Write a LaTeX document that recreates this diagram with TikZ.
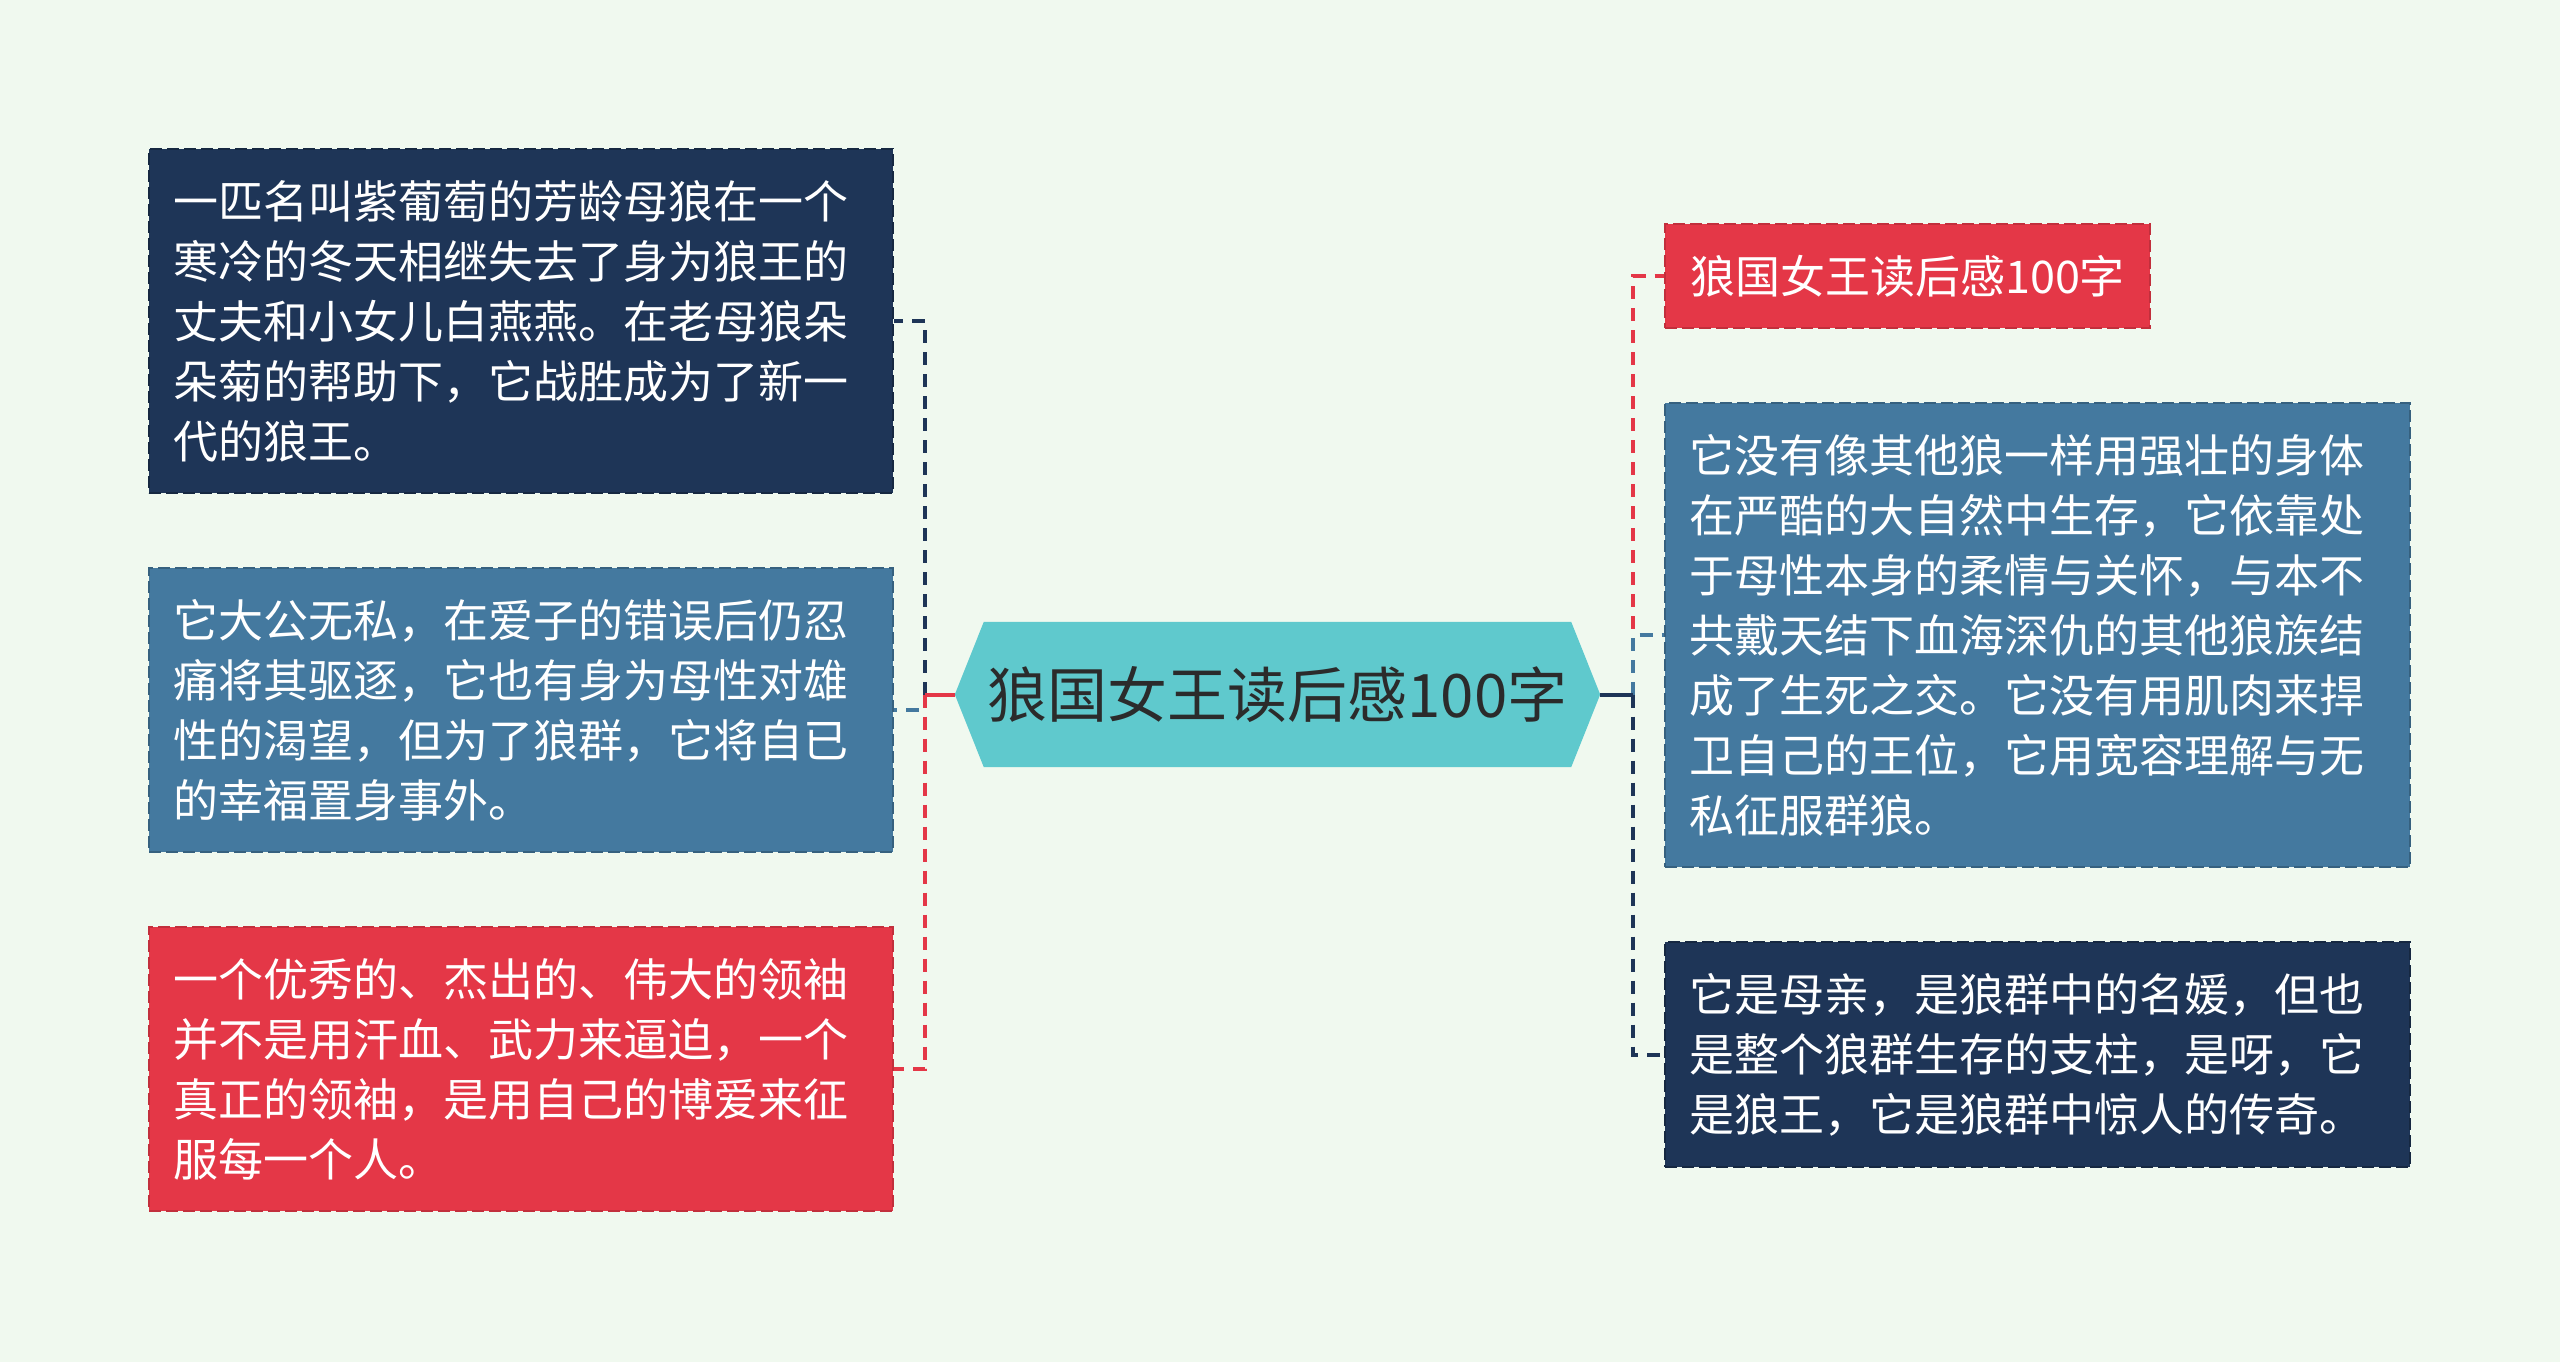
\documentclass[tikz,border=0pt]{standalone}
\usepackage{fontspec}
\setmainfont{Noto Sans CJK SC}
\usetikzlibrary{backgrounds}
\definecolor{bgc}{HTML}{F0F9EF}
\definecolor{navyc}{HTML}{1E3557}
\definecolor{bluec}{HTML}{44799F}
\definecolor{redc}{HTML}{E43747}
\definecolor{tealc}{HTML}{5FC9CD}
\definecolor{darktxt}{HTML}{2B2B2B}
\tikzset{
  box/.style={rectangle, line width=2pt, dash pattern=on 12pt off 5pt,
    text=white, font=\fontsize{45}{60}\selectfont, align=left,
    inner xsep=24pt, inner ysep=0pt, anchor=center},
  navybox/.style={box, fill=navyc, draw=navyc!75!black},
  bluebox/.style={box, fill=bluec, draw=bluec!80!black},
  redbox/.style={box, fill=redc, draw=redc!85!black},
  conn/.style={line width=4pt, dash pattern=on 13pt off 9pt},
  stub/.style={line width=4pt},
}
\begin{document}
\begin{tikzpicture}[x=1pt,y=-1pt]
\useasboundingbox (0,0) rectangle (2560,1362);
\begin{scope}[on background layer]
\fill[bgc] (0,0) rectangle (2560,1362);
\end{scope}

% centre
\node[text=darktxt, font=\fontsize{60}{70}\selectfont, minimum width=645pt, minimum height=145pt, inner sep=0pt] (h) at (1277.5,694.5) {狼国女王读后感100字};
\begin{scope}[on background layer]
\fill[tealc] (h.west) -- ([xshift=29pt]h.north west) -- ([xshift=-29pt]h.north east) -- (h.east) -- ([xshift=-29pt]h.south east) -- ([xshift=29pt]h.south west) -- cycle;
\end{scope}

% left boxes
\node[navybox, text width=696pt, minimum height=344pt] (L1) at (521,321) {一匹名叫紫葡萄的芳龄母狼在一个\\寒冷的冬天相继失去了身为狼王的\\丈夫和小女儿白燕燕。在老母狼朵\\朵菊的帮助下，它战胜成为了新一\\代的狼王。};
\node[bluebox, text width=696pt, minimum height=284pt] (L2) at (521,710) {它大公无私，在爱子的错误后仍忍\\痛将其驱逐，它也有身为母性对雄\\性的渴望，但为了狼群，它将自已\\的幸福置身事外。};
\node[redbox, text width=696pt, minimum height=284pt] (L3) at (521,1069) {一个优秀的、杰出的、伟大的领袖\\并不是用汗血、武力来逼迫，一个\\真正的领袖，是用自己的博爱来征\\服每一个人。};

% right boxes
\node[redbox, minimum width=485pt, minimum height=104pt, inner xsep=0pt, align=center] (R1) at (1907.5,276) {狼国女王读后感100字};
\node[bluebox, text width=697pt, minimum height=464pt] (R2) at (2037.5,635) {它没有像其他狼一样用强壮的身体\\在严酷的大自然中生存，它依靠处\\于母性本身的柔情与关怀，与本不\\共戴天结下血海深仇的其他狼族结\\成了生死之交。它没有用肌肉来捍\\卫自己的王位，它用宽容理解与无\\私征服群狼。};
\node[navybox, text width=697pt, minimum height=225pt] (R3) at (2037.5,1054.5) {它是母亲，是狼群中的名媛，但也\\是整个狼群生存的支柱，是呀，它\\是狼王，它是狼群中惊人的传奇。};

% spines
\coordinate (sl) at (925,694.5);
\coordinate (sr) at (1633,694.5);

% left connectors
\draw[conn, navyc] (sl) |- (L1.east);
\draw[conn, bluec] (sl) |- (L2.east);
\draw[conn, redc] (sl) |- (L3.east);
\draw[stub, redc] (h.west) -- (sl);

% right connectors
\draw[conn, redc] (sr) |- (R1.west);
\draw[conn, bluec] (sr) |- (R2.west);
\draw[conn, navyc] (sr) |- (R3.west);
\draw[stub, navyc] (h.east) -- (sr);
\end{tikzpicture}
\end{document}
